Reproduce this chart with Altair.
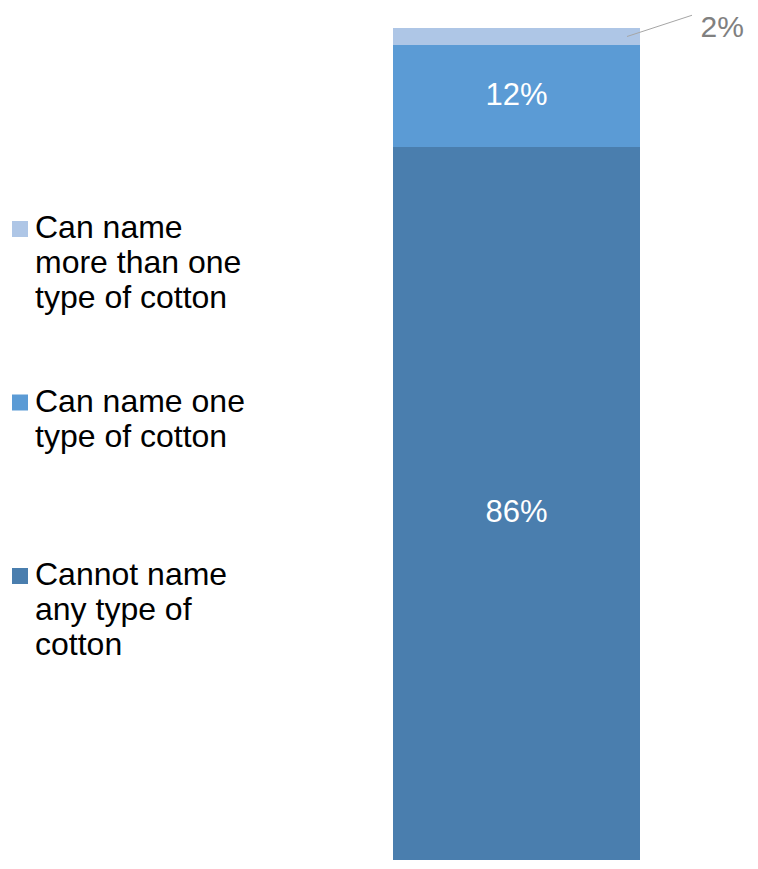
import altair as alt
import pandas as pd

# ---- data ----
categories = [
    "Cannot name any type of cotton",
    "Can name one type of cotton",
    "Can name more than one type of cotton",
]
values = [86, 12, 2]
stack_rank = [0, 1, 2]          # 0 = bottom of the stack
legend_rank = [2, 1, 0]         # 0 = top of the legend
legend_labels = [
    "Cannot name|any type of|cotton",
    "Can name one|type of cotton",
    "Can name|more than one|type of cotton",
]
value_labels = ["86%", "12%", "2%"]
colors = ["#4A7EAE", "#5B9BD5", "#AEC6E6"]

FONT = "Liberation Sans"

df = pd.DataFrame({
    "category": categories,
    "value": values,
    "rank": stack_rank,
    "lrank": legend_rank,
    "legend": legend_labels,
    "vlabel": value_labels,
    "group": ["All"] * len(categories),
})

H = 852
# 8.5 px per percentage point, 100% at chart y=20
ymax = 100 + 20 / 8.5
ymin = ymax - H / 8.5

color = alt.Color("category:N", scale=alt.Scale(domain=categories, range=colors), legend=None)
yscale = alt.Scale(domain=[ymin, ymax], nice=False, zero=False)
xenc = alt.X("group:N", scale=alt.Scale(range=[385, 632], paddingInner=0, paddingOuter=0), axis=None)

base = alt.Chart(df).transform_stack(
    stack="value", groupby=["group"], as_=["y0", "y1"], sort=[alt.SortField("rank", order="ascending")]
).transform_calculate(
    mid="(datum.y0 + datum.y1) / 2",
    lead_top="datum.y1 + 1.5",
)

bars = base.mark_bar(clip=True).encode(
    x=xenc,
    y=alt.Y("y0:Q", scale=yscale, axis=None),
    y2="y1:Q",
    color=color,
)

inside = base.transform_filter("datum.value >= 5").mark_text(
    font=FONT, fontSize=31, color="white", baseline="middle", align="center"
).encode(
    x=xenc,
    y=alt.Y("mid:Q", scale=yscale, axis=None),
    text="vlabel:N",
)

outside = base.transform_filter("datum.value < 5").mark_text(
    font=FONT, fontSize=30, color="#808080", baseline="middle", align="left", dx=184, dy=0
).encode(
    x=xenc,
    y=alt.Y("y1:Q", scale=yscale, axis=None),
    text="vlabel:N",
)

leader = base.transform_filter("datum.value < 5").mark_rule(color="#A6A6A6", strokeWidth=1).encode(
    x=alt.value(619),
    x2=alt.value(684),
    y=alt.Y("mid:Q", scale=yscale, axis=None),
    y2="lead_top:Q",
)

bar_layer = alt.layer(bars, inside, outside, leader)

lyscale = alt.Scale(type="point", domain=[0, 1, 2], range=[221, 568], padding=0)

legend_sq = alt.Chart(df).mark_square(size=256, opacity=1, filled=True).encode(
    x=alt.value(12),
    y=alt.Y("lrank:O", scale=lyscale, axis=None),
    color=color,
)

legend_txt = alt.Chart(df).mark_text(
    font=FONT, fontSize=32, color="black", align="left", baseline="alphabetic",
    lineBreak="|", lineHeight=35, dy=9,
).encode(
    x=alt.value(27),
    y=alt.Y("lrank:O", scale=lyscale, axis=None),
    text="legend:N",
)

legend_layer = alt.layer(legend_sq, legend_txt)

chart = alt.layer(bar_layer, legend_layer).resolve_scale(y="independent").properties(
    width=742,
    height=H,
    padding=0,
    autosize=alt.AutoSizeParams(type="none"),
).configure_view(stroke=None)

chart.save("out.html", embed_options={"renderer": "svg", "actions": False})
